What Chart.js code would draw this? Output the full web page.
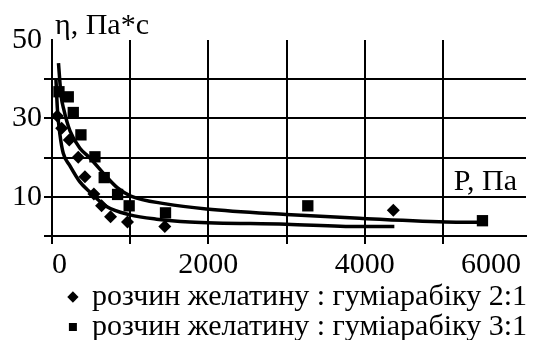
<!DOCTYPE html>
<html>
<head>
<meta charset="utf-8">
<script src="https://cdn.jsdelivr.net/npm/chart.js@4.4.1/dist/chart.umd.min.js"></script>
<style>
  html, body { margin: 0; padding: 0; background: #fff; overflow: hidden; }
  #wrap { width: 534px; height: 340px; }
</style>
</head>
<body>
<div id="wrap"><canvas id="chart"></canvas></div>
<script>
// series names
const seriesLabels = [
  "розчин желатину : гуміарабіку 2:1",
  "розчин желатину : гуміарабіку 3:1"
];
const yTitle = "η, Па*с";
const xTitle = "P, Па";

// measured points, 2:1 (diamonds)
const p21 = [68, 124, 221, 336, 421, 536, 634, 749, 966, 1443, 4366];
const eta21 = [30.6, 27.5, 24.5, 20.1, 15.1, 10.7, 7.7, 4.9, 3.6, 2.4, 6.6];

// measured points, 3:1 (squares)
const p31 = [89, 208, 272, 370, 549, 668, 839, 987, 1452, 3272, 5506];
const eta31 = [36.8, 35.5, 31.5, 25.8, 20.2, 14.9, 10.6, 7.7, 5.9, 7.7, 3.9];

// trend curves
const trendP21 = [51, 70, 102, 144, 230, 357, 485, 698, 996, 1337, 1762, 2996, 3932, 4379];
const trendEta21 = [39.8, 32.1, 25.8, 21.1, 17.9, 13.8, 11.2, 7.5, 5.4, 4.3, 3.6, 3.0, 2.4, 2.4];
const trendP31 = [83, 115, 153, 230, 357, 485, 698, 843, 1008, 1455, 1975, 2996, 3932, 5039, 5506];
const trendEta31 = [44.1, 36.0, 32.1, 26.8, 22.4, 19.9, 15.1, 12.2, 10.2, 8.2, 6.9, 5.5, 4.5, 3.6, 3.5];

// axes
const xTicks = [0, 1000, 2000, 3000, 4000, 5000, 6000];
const xTickLabels = ["0", "", "2000", "", "4000", "", "6000"];
const yTicks = [0, 10, 20, 30, 40, 50];
const yTickLabels = ["", "10", "", "30", "", "50"];

const toXY = (xs, ys) => xs.map((x, i) => ({ x: x, y: ys[i] }));

Chart.defaults.font.family = "'Liberation Serif', 'Times New Roman', serif";
Chart.defaults.color = "#000";

// axis captions sit inside the plot corners like in the original
const axisTitles = {
  id: "axisTitles",
  afterDraw(chart) {
    const { ctx, chartArea } = chart;
    ctx.save();
    ctx.font = "30px 'Liberation Serif'";
    ctx.fillStyle = "#000";
    ctx.textBaseline = "alphabetic";
    ctx.textAlign = "left";
    ctx.fillText(yTitle, chartArea.left + 3, chartArea.top - 6);
    ctx.textAlign = "right";
    ctx.fillText(xTitle, chartArea.right - 9, chartArea.bottom - 46);
    ctx.restore();
  }
};

new Chart(document.getElementById("chart"), {
  type: "scatter",
  data: {
    datasets: [
      {
        label: seriesLabels[0],
        data: toXY(p21, eta21),
        pointStyle: "rectRot",
        pointRadius: 6.5,
        backgroundColor: "#000",
        borderColor: "#000",
        borderWidth: 0
      },
      {
        label: seriesLabels[1],
        data: toXY(p31, eta31),
        pointStyle: "rect",
        pointRadius: 8,
        backgroundColor: "#000",
        borderColor: "#000",
        borderWidth: 0
      },
      {
        label: "trend 2:1",
        data: toXY(trendP21, trendEta21),
        showLine: true,
        pointRadius: 0,
        borderColor: "#000",
        borderWidth: 3.5,
        cubicInterpolationMode: "monotone"
      },
      {
        label: "trend 3:1",
        data: toXY(trendP31, trendEta31),
        showLine: true,
        pointRadius: 0,
        borderColor: "#000",
        borderWidth: 3.5,
        cubicInterpolationMode: "monotone"
      }
    ]
  },
  options: {
    responsive: true,
    maintainAspectRatio: false,
    animation: false,
    devicePixelRatio: 1,
    layout: { padding: { top: 40, left: 0, right: 7, bottom: -12 } },
    plugins: {
      tooltip: { enabled: false },
      legend: {
        position: "bottom",
        align: "end",
        labels: {
          usePointStyle: true,
          boxWidth: 8,
          boxHeight: 8,
          padding: 0,
          color: "#000",
          font: { size: 30 },
          filter: item => item.datasetIndex < 2
        }
      }
    },
    scales: {
      x: {
        type: "linear",
        min: 0,
        max: 6063,
        afterBuildTicks: s => { s.ticks = xTicks.map(v => ({ value: v })); },
        afterFit: s => { s.height = 46; },
        ticks: {
          align: "inner",
          padding: 3,
          maxRotation: 0,
          font: { size: 30 },
          color: "#000",
          callback: (v, i) => xTickLabels[i]
        },
        grid: {
          color: c => (c.tick && c.tick.value === 6000) ? "rgba(0,0,0,0)" : "#000",
          lineWidth: 2,
          tickLength: 8
        },
        border: { color: "#000", width: 2 }
      },
      y: {
        min: 0,
        max: 50,
        afterBuildTicks: s => { s.ticks = yTicks.map(v => ({ value: v })); },
        afterFit: s => { s.width = 52; },
        ticks: {
          padding: 2,
          font: { size: 30 },
          color: "#000",
          callback: (v, i) => yTickLabels[i]
        },
        grid: {
          color: c => (c.tick && c.tick.value === 50) ? "rgba(0,0,0,0)" : "#000",
          lineWidth: 2,
          tickLength: 8
        },
        border: { color: "#000", width: 2 }
      }
    }
  },
  plugins: [axisTitles]
});
</script>
</body>
</html>
